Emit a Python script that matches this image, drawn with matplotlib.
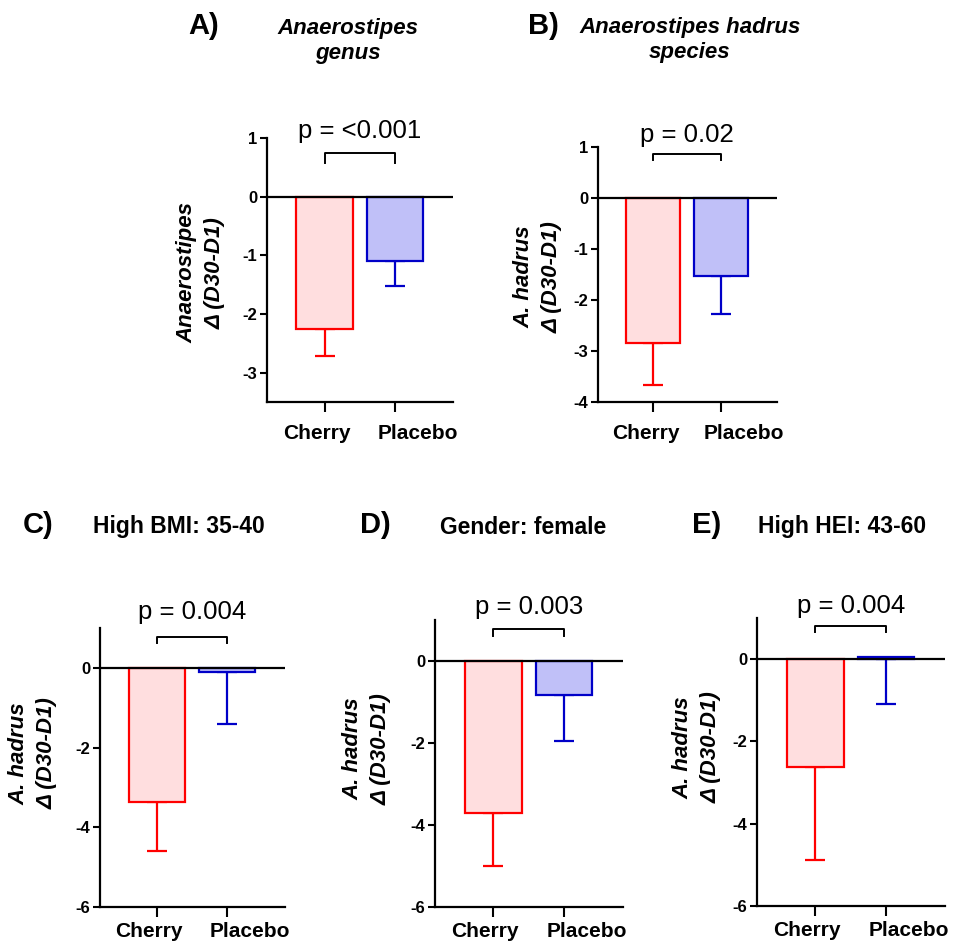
import matplotlib
matplotlib.use("Agg")
import matplotlib.pyplot as plt

plt.rcParams['font.family'] = ['Liberation Sans', 'DejaVu Sans']

W, H = 955, 947

categories = ["Cherry", "Placebo"]

panel_letters = ["A)", "B)", "C)", "D)", "E)"]
panel_titles = ["Anaerostipes\ngenus", "Anaerostipes hadrus\nspecies",
                "High BMI: 35-40", "Gender: female", "High HEI: 43-60"]
ylabels_top = ["Anaerostipes", "A. hadrus", "A. hadrus", "A. hadrus", "A. hadrus"]
means_A = [-2.25, -1.09]
err_A = [0.46, 0.44]
means_B = [-2.85, -1.52]
err_B = [0.81, 0.76]
means_C = [-3.37, -0.10]
err_C = [1.23, 1.30]
means_D = [-3.70, -0.83]
err_D = [1.30, 1.12]
means_E = [-2.62, 0.05]
err_E = [2.26, 1.10]
pvals = ["p = <0.001", "p = 0.02", "p = 0.004", "p = 0.003", "p = 0.004"]
ylims = [(-3.5, 1), (-4, 1), (-6, 1), (-6, 1), (-6, 1)]
yticks = [[1, 0, -1, -2, -3], [1, 0, -1, -2, -3, -4], [0, -2, -4, -6], [0, -2, -4, -6], [0, -2, -4, -6]]

means = [means_A, means_B, means_C, means_D, means_E]
errs = [err_A, err_B, err_C, err_D, err_E]

# layout (pixels): left, right, top, bottom
rects = [(267, 453, 138, 402), (598, 777, 147, 402), (100, 285, 628, 907),
         (435, 623, 620, 907), (757, 945, 618, 906)]
bracket = [(0.75, 0.58), (0.86, 0.75), (0.78, 0.63), (0.78, 0.61), (0.80, 0.66)]
ptext_y = [1.12, 1.24, 1.40, 1.32, 1.29]
ylabel_xy = [(-0.22, 0.49), (-0.195, 0.49), (-0.23, 0.55), (-0.23, 0.55), (-0.19, 0.55)]
xlabel_gap = [22, 22, 15, 15, 15]
xlabel_dx = [-8, 23]

edge_colors = ["#FF0000", "#0000C8"]
fill_colors = ["#FFDEDF", "#C0C0F8"]

fig = plt.figure(figsize=(W / 100, H / 100), dpi=100)

for i in range(5):
    l, r, t, b = rects[i]
    ax = fig.add_axes([l / W, 1 - b / H, (r - l) / W, (b - t) / H])
    x = [0, 1]
    for j in range(2):
        ax.bar(x[j], means[i][j], width=0.8, color=fill_colors[j],
               edgecolor=edge_colors[j], linewidth=1.6, zorder=2)
        base = means[i][j] if means[i][j] < 0 else 0
        ax.errorbar(x[j], base, yerr=[[errs[i][j]], [0]], fmt='none',
                    ecolor=edge_colors[j], elinewidth=1.6, capsize=7,
                    capthick=1.6, zorder=1)
        ax.annotate(categories[j], xy=(x[j], 0), xycoords=('data', 'axes fraction'),
                    xytext=(xlabel_dx[j], -xlabel_gap[i]), textcoords='offset pixels',
                    ha='center', va='top', fontsize=15, fontweight='bold',
                    annotation_clip=False)
    ax.axhline(0, color='black', linewidth=1.6, zorder=3)
    ax.set_xlim(-0.82, 1.83)
    ax.set_ylim(*ylims[i])
    ax.set_yticks(yticks[i])
    ax.set_yticklabels([str(v) for v in yticks[i]], fontsize=12, fontweight='bold')
    ax.set_xticks(x)
    ax.set_xticklabels([])
    ax.tick_params(axis='x', length=7, width=1.5)
    ax.tick_params(axis='y', length=5, width=1.5, pad=2)
    for s in ['top', 'right']:
        ax.spines[s].set_visible(False)
    for s in ['left', 'bottom']:
        ax.spines[s].set_linewidth(1.6)
    top, foot = bracket[i]
    ax.plot([0, 0, 1, 1], [foot, top, top, foot], color='black', linewidth=1.4,
            clip_on=False)
    ax.text(0.5, ptext_y[i], pvals[i], ha='center', va='center', fontsize=18.5,
            clip_on=False)
    ax.set_ylabel(ylabels_top[i] + "\n" + "Δ (D30-D1)", fontsize=16,
                  fontweight='bold', fontstyle='italic', linespacing=1.45)
    ax.yaxis.set_label_coords(*ylabel_xy[i])

fig.text(188 / W, 1 - 26 / H, "A)", fontsize=21, fontweight='bold', va='center')
fig.text(348 / W, 1 - 41 / H, panel_titles[0], fontsize=16, fontweight='bold',
         fontstyle='italic', ha='center', va='center', linespacing=1.3)
fig.text(528 / W, 1 - 26 / H, "B)", fontsize=21, fontweight='bold', va='center')
fig.text(690 / W, 1 - 40 / H, panel_titles[1], fontsize=16, fontweight='bold',
         fontstyle='italic', ha='center', va='center', linespacing=1.3)
fig.text(23 / W, 1 - 525 / H, "C)", fontsize=21, fontweight='bold', va='center')
fig.text(93 / W, 1 - 527 / H, panel_titles[2], fontsize=16.5, fontweight='bold',
         va='center')
fig.text(360 / W, 1 - 525 / H, "D)", fontsize=21, fontweight='bold', va='center')
fig.text(440 / W, 1 - 527 / H, panel_titles[3], fontsize=16.5, fontweight='bold',
         va='center')
fig.text(692 / W, 1 - 525 / H, "E)", fontsize=21, fontweight='bold', va='center')
fig.text(758 / W, 1 - 527 / H, panel_titles[4], fontsize=16.5, fontweight='bold',
         va='center')

fig.savefig("out.png", dpi=100)
